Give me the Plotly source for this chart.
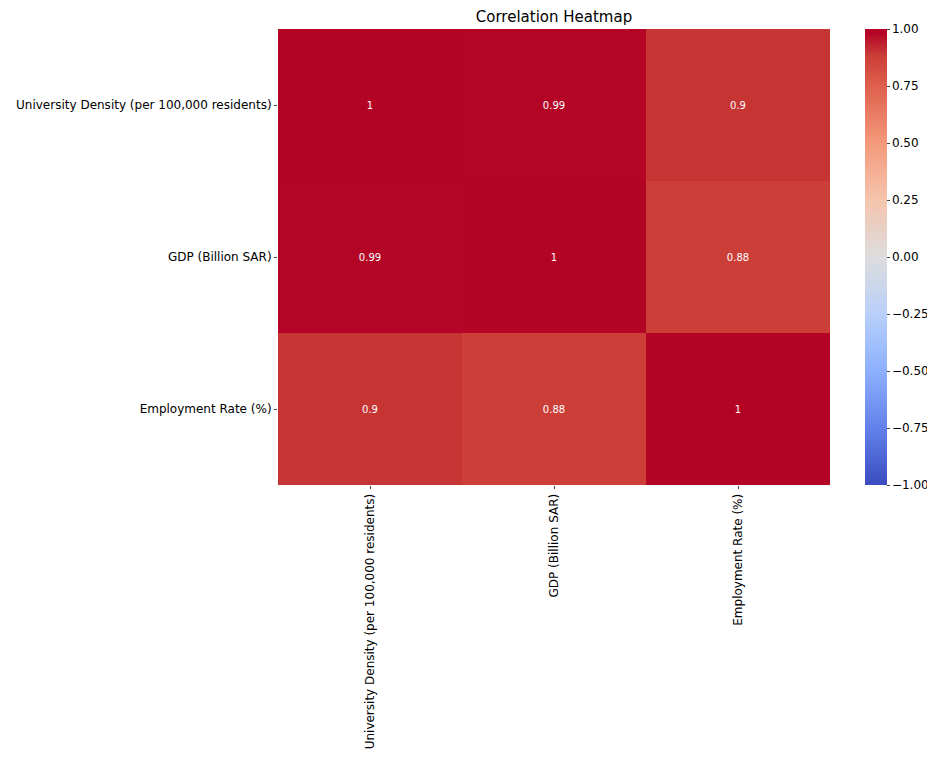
import plotly.graph_objects as go

labels = ["University Density (per 100,000 residents)", "GDP (Billion SAR)", "Employment Rate (%)"]
corr = [
    [1.00, 0.99, 0.90],
    [0.99, 1.00, 0.88],
    [0.90, 0.88, 1.00],
]
cell_text = [
    ["1", "0.99", "0.9"],
    ["0.99", "1", "0.88"],
    ["0.9", "0.88", "1"],
]

# approx. matplotlib coolwarm
coolwarm = [
    [0.0, "rgb(59,76,192)"],
    [0.125, "rgb(98,130,234)"],
    [0.25, "rgb(141,176,254)"],
    [0.375, "rgb(184,208,249)"],
    [0.5, "rgb(221,221,221)"],
    [0.625, "rgb(245,196,173)"],
    [0.75, "rgb(244,154,123)"],
    [0.875, "rgb(222,96,77)"],
    [0.94, "rgb(204,62,56)"],
    [0.95, "rgb(198,52,52)"],
    [0.99, "rgb(181,6,39)"],
    [1.0, "rgb(180,4,38)"],
]

# page adds an 8px body margin, so the figure is drawn 8px smaller
W, H = 927, 753
L, R, T, B = 270, 105, 21, 276
plot_w = W - L - R

fig = go.Figure()
fig.add_trace(go.Heatmap(
    z=corr, x=labels, y=labels,
    text=cell_text, texttemplate="%{text}",
    textfont=dict(color="white", size=10, family="DejaVu Sans"),
    colorscale=coolwarm, zmin=-1, zmax=1,
    colorbar=dict(
        x=(857 - L) / plot_w, xanchor="left", xpad=0, ypad=0,
        thickness=22, len=1, lenmode="fraction", y=0.5,
        tickvals=[-1, -0.75, -0.5, -0.25, 0, 0.25, 0.5, 0.75, 1],
        ticktext=["\u22121.00", "\u22120.75", "\u22120.50", "\u22120.25", "0.00", "0.25", "0.50", "0.75", "1.00"],
        ticks="outside", ticklen=3, outlinewidth=0,
        tickfont=dict(size=12, family="DejaVu Sans", color="black"),
    ),
))

fig.update_layout(
    width=W, height=H,
    margin=dict(l=L, r=R, t=T, b=B, autoexpand=False),
    paper_bgcolor="white", plot_bgcolor="white",
    title=dict(text="Correlation Heatmap", x=(L + plot_w / 2) / W, xanchor="center",
               y=1 - 9 / H, yanchor="middle",
               font=dict(size=15, family="DejaVu Sans", color="black")),
    font=dict(family="DejaVu Sans", color="black"),
)
fig.update_xaxes(tickangle=-90, ticks="outside", ticklen=3, tickfont=dict(size=12), showgrid=False)
fig.update_yaxes(autorange="reversed", ticks="outside", ticklen=3, tickfont=dict(size=12), showgrid=False)

fig.write_html("out.html")
